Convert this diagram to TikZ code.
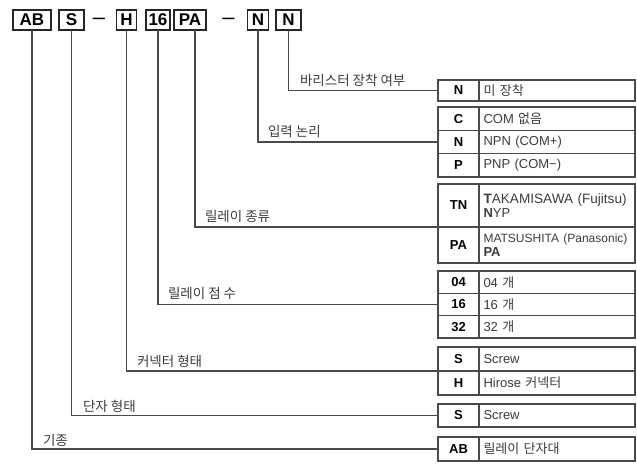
\documentclass[tikz,border=0pt]{standalone}
\usepackage{fontspec}
\setmainfont{Liberation Sans}
\newfontfamily\kr{Noto Sans CJK KR}
\usepackage{xcolor}
\definecolor{linegray}{HTML}{4A4A4A}
\definecolor{textgray}{HTML}{3C3C3C}
\usetikzlibrary{positioning}

\begin{document}
\begin{tikzpicture}[x=1pt, y=-1pt,
  every node/.style={inner sep=0pt, outer sep=0pt},
  partbox/.style={draw=black!85, line width=1.4pt, minimum height=20pt, font=\fontsize{17}{17}\selectfont\bfseries},
  codecell/.style={draw=linegray, line width=1.2pt, anchor=north west, minimum width=41pt, minimum height=#1, font=\fontsize{13}{14}\selectfont\bfseries},
  codecell/.default=23pt,
  desccell/.style={draw=linegray, line width=1.2pt, anchor=north west, text width=147pt, inner xsep=4.5pt, align=left, minimum height=#1, text=textgray, font=\fontsize{13}{14}\selectfont},
  desccell/.default=23pt,
  conn/.style={draw=linegray, line width=1.2pt},
  lbl/.style={anchor=base west, text=textgray, font=\kr\fontsize{13.5}{14}\selectfont}]
  \useasboundingbox (0,0) rectangle (637,466);

  % Model code boxes
  \node[partbox, minimum width=38pt] (ab) at (32,20) {AB};
  \node[partbox, minimum width=25pt] (term) at (71.5,20) {S};
  \node[font=\fontsize{22}{22}\selectfont] (dashA) at (99,21) {--};
  \node[partbox, minimum width=20pt] (conn) at (126.5,20) {H};
  \node[partbox, minimum width=24pt] (pts) at (158,20) {16};
  \node[partbox, minimum width=32pt] (rly) at (190,20) {PA};
  \node[font=\fontsize{22}{22}\selectfont] (dashB) at (228.5,21) {--};
  \node[partbox, minimum width=21pt] (logic) at (258,20) {N};
  \node[partbox, minimum width=25pt] (vari) at (288.5,20) {N};

  % Option tables
  \node[codecell=21pt] (vN) at (438,80) {N};
  \node[desccell=21pt] at (vN.north east) {\kr 미 장착};

  \node[codecell=23.3pt] (lC) at (438,107) {C};
  \node[desccell=23.3pt] at (lC.north east) {COM {\kr 없음}};
  \node[codecell=23.3pt] (lN) at (lC.south west) {N};
  \node[desccell=23.3pt] at (lN.north east) {NPN (COM+)};
  \node[codecell=23.3pt] (lP) at (lN.south west) {P};
  \node[desccell=23.3pt] at (lP.north east) {PNP (COM−)};

  \node[codecell=43pt] (rTN) at (438,184) {TN};
  \node[desccell=43pt] at (rTN.north east) {{\fontsize{13.6}{15}\selectfont\textbf{T}AKAMISAWA (Fujitsu)}\\\textbf{N}YP};
  \node[codecell=36pt] (rPA) at (rTN.south west) {PA};
  \node[desccell=36pt] at (rPA.north east) {{\fontsize{12}{14}\selectfont MATSUSHITA (Panasonic)}\\\textbf{PA}};

  \node[codecell=22.3pt] (p04) at (438,271) {04};
  \node[desccell=22.3pt] at (p04.north east) {04 {\kr 개}};
  \node[codecell=22.3pt] (p16) at (p04.south west) {16};
  \node[desccell=22.3pt] at (p16.north east) {16 {\kr 개}};
  \node[codecell=22.3pt] (p32) at (p16.south west) {32};
  \node[desccell=22.3pt] at (p32.north east) {32 {\kr 개}};

  \node[codecell=24pt] (cS) at (438,347) {S};
  \node[desccell=24pt] at (cS.north east) {Screw};
  \node[codecell=24pt] (cH) at (cS.south west) {H};
  \node[desccell=24pt] at (cH.north east) {Hirose {\kr 커넥터}};

  \node[codecell] (tS) at (438,404) {S};
  \node[desccell] at (tS.north east) {Screw};

  \node[codecell=24pt] (mAB) at (438,437) {AB};
  \node[desccell=24pt] at (mAB.north east) {\kr 릴레이 단자대};

  % Leader lines
  \draw[conn] (vari.south) |- (vN.west);
  \draw[conn] (logic.south) |- (lN.west);
  \draw[conn] ([xshift=5pt]rly.south) |- (rTN.south west);
  \draw[conn] (pts.south) |- (p16.west);
  \draw[conn] (conn.south) |- (cS.south west);
  \draw[conn] (term.south) |- (tS.west);
  \draw[conn] (ab.south) |- (mAB.west);

  % Labels
  \node[lbl] at (300,85) {바리스터 장착 여부};
  \node[lbl] at (268,136) {입력 논리};
  \node[lbl] at (205,221) {릴레이 종류};
  \node[lbl] at (168,298) {릴레이 점 수};
  \node[lbl] at (137,366) {커넥터 형태};
  \node[lbl] at (83,411) {단자 형태};
  \node[lbl] at (43,445) {기종};
\end{tikzpicture}
\end{document}
